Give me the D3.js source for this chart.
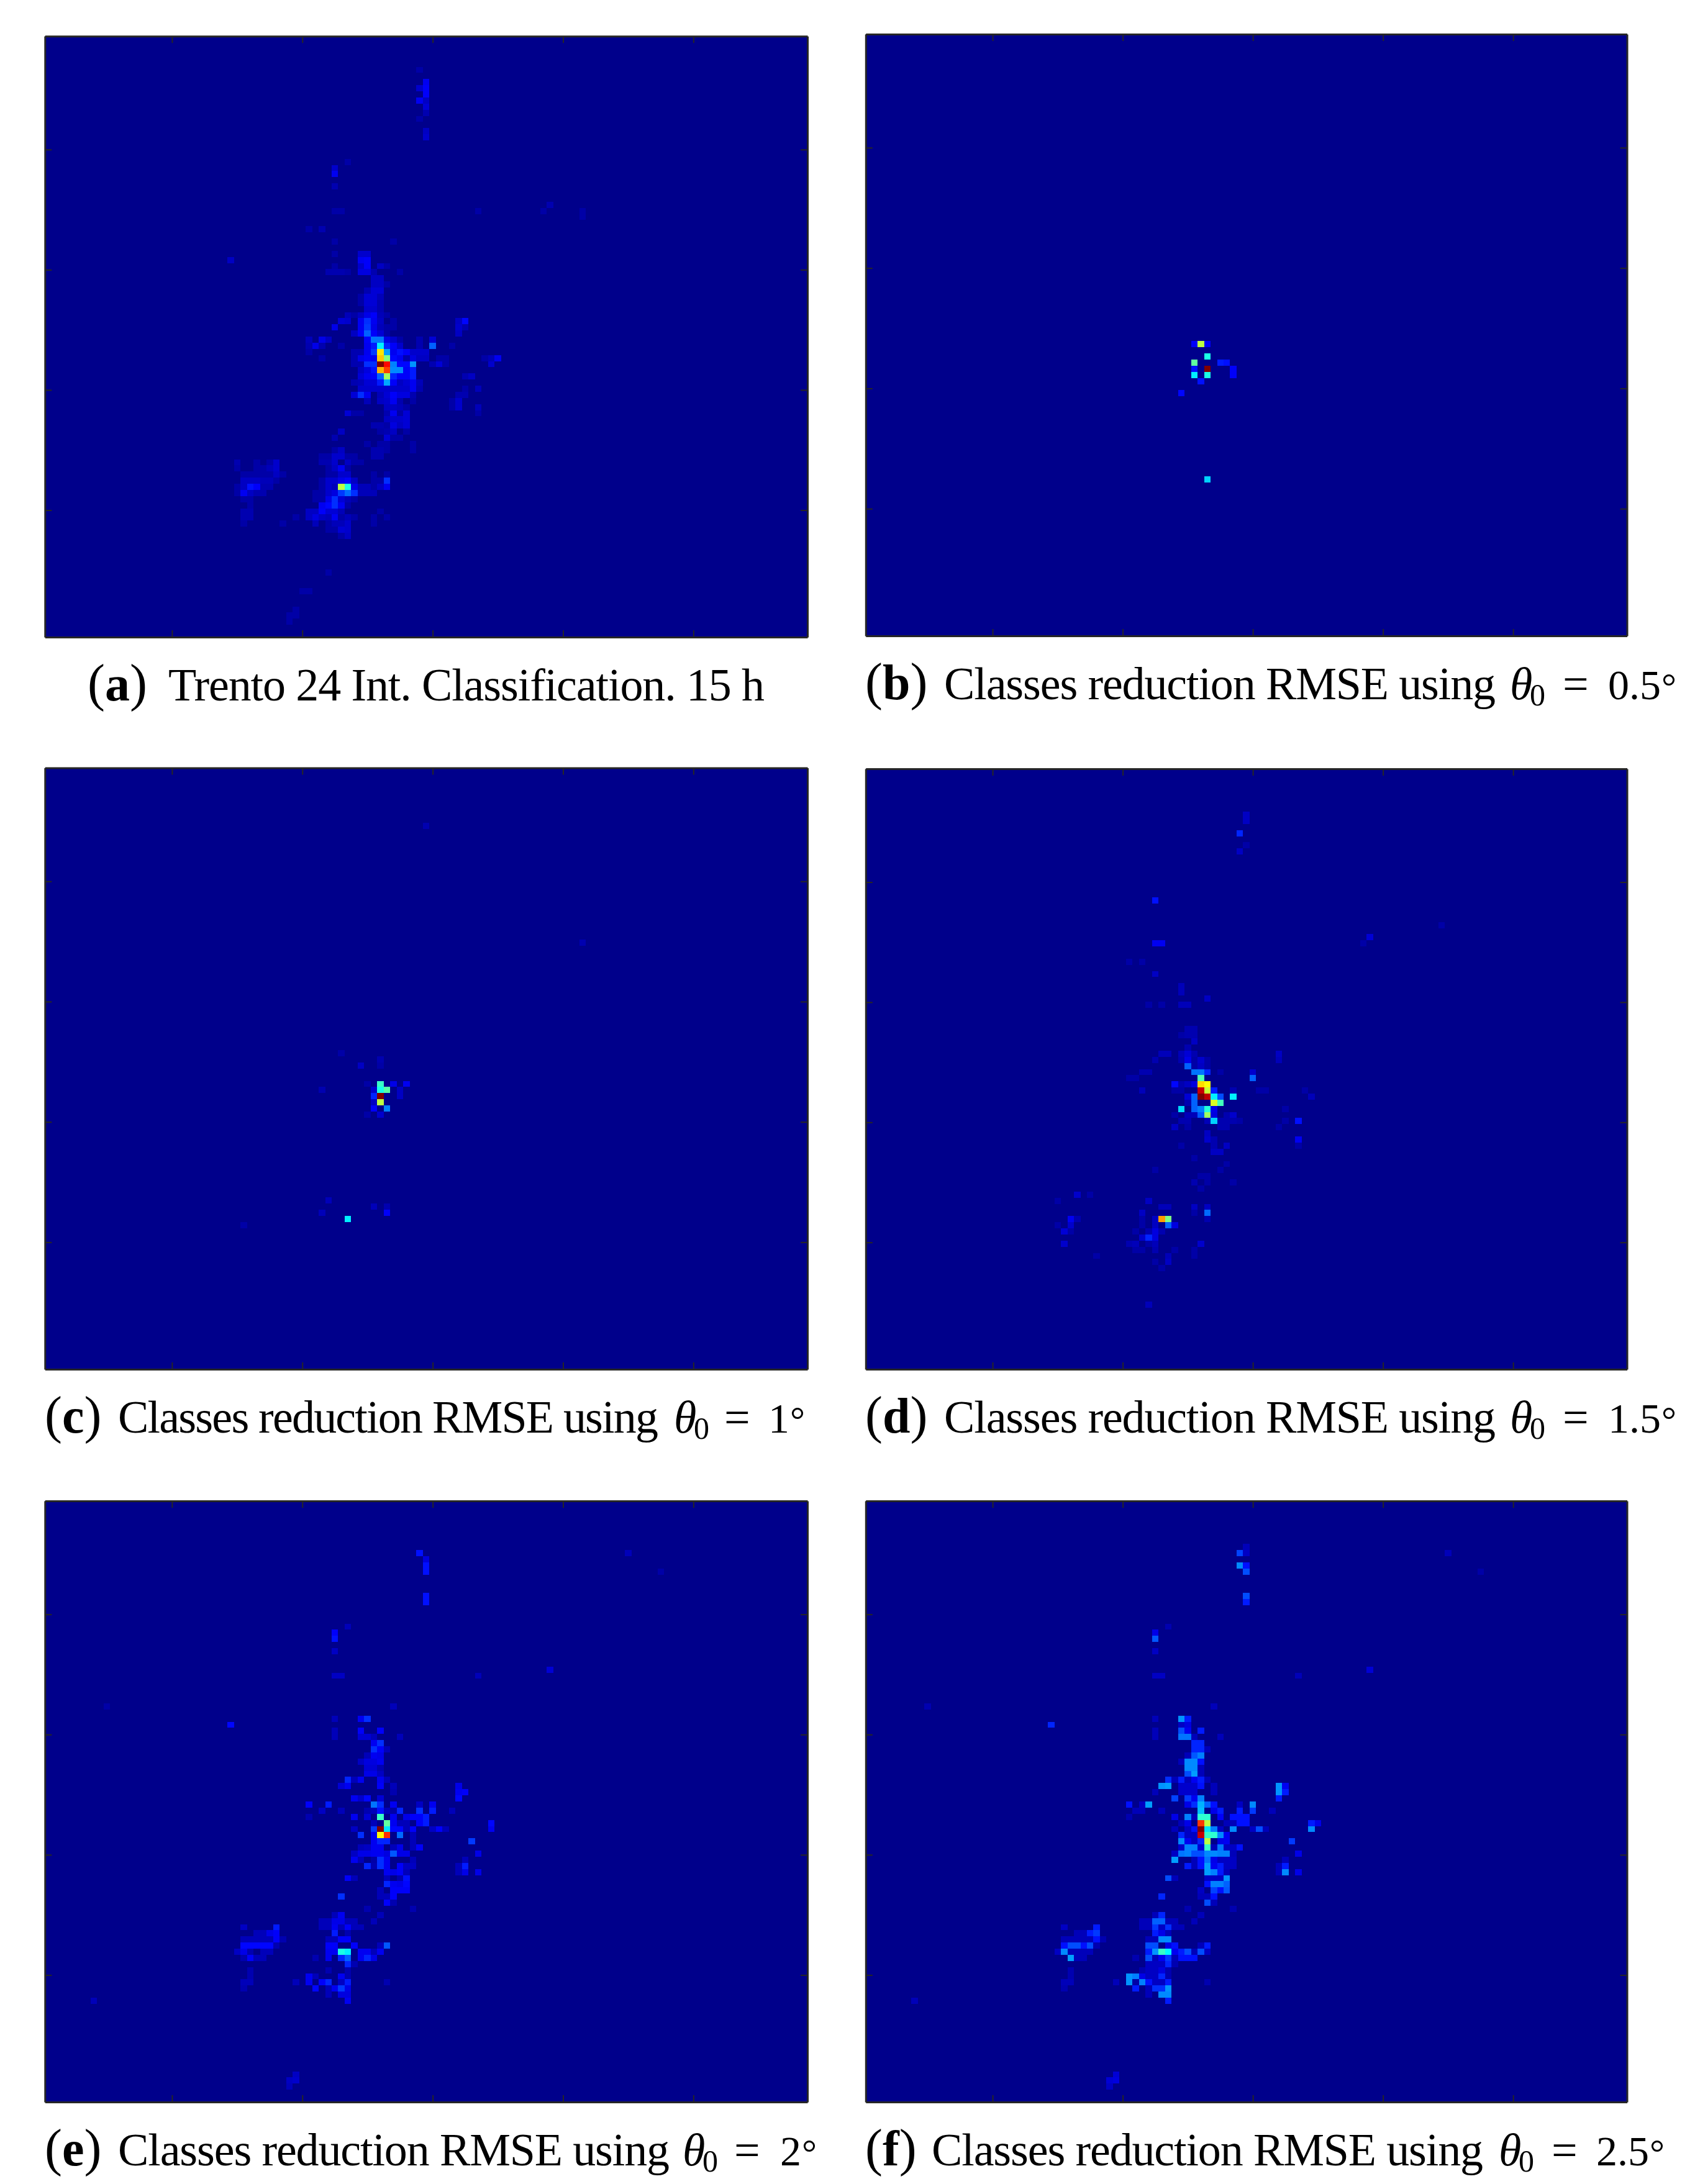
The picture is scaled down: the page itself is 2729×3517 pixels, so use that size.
<!DOCTYPE html>
<html><head><meta charset="utf-8">
<script src="https://cdn.jsdelivr.net/npm/d3@7"></script>
<style>html,body{margin:0;padding:0;background:#fff}svg{display:block}</style>
</head><body><div id="chart"></div>
<script>
// Each row: [rowIndex, [col, value, col, value, ...]]; value in percent of the jet colour range.
const heatA = [
[5,[57,3]],[7,[58,11]],[8,[57,7,58,12]],[9,[58,12]],[10,[57,11,58,6]],[11,[58,8]],[12,[58,4]],[13,[57,3]],[15,[58,6]],[16,[58,7]],
[20,[46,3]],[21,[44,7]],[22,[44,11]],[24,[44,4]],[27,[77,4]],[28,[44,3,45,3,66,3,76,3,82,3]],[29,[82,3]],[31,[40,3,42,4]],
[33,[44,3,53,3]],[35,[44,3,48,7,49,7]],[36,[28,6,48,11,49,12]],[37,[44,3,48,7,49,12,51,6,52,3]],
[38,[43,4,44,4,45,4,46,3,48,9,49,9,50,4,54,3]],[39,[50,6,51,6]],[40,[50,6,51,6,52,3]],[41,[49,4,50,8,51,8]],
[42,[48,3,49,8,50,8,51,5]],[43,[48,3,49,8,50,8,51,4]],[44,[49,7,50,7,51,4]],
[45,[46,5,47,3,48,6,49,10,50,12,51,5,52,3]],
[46,[45,8,46,7,48,11,49,17,50,11,51,6,53,3,63,6,64,13]],
[47,[44,10,48,11,49,18,50,10,51,5,52,3,53,3,63,7,64,4]],
[48,[47,6,48,12,49,22,50,12,51,8,52,3,63,6]],
[49,[40,5,42,10,43,6,49,12,50,24,51,24,52,10,53,7,54,3,57,4,59,8]],
[50,[40,4,41,10,42,4,45,3,49,11,50,15,51,36,52,16,53,12,54,7,57,4,59,22,62,3]],
[51,[40,3,47,4,48,4,49,11,50,18,51,65,52,28,53,11,54,14,55,12,56,7,57,7,58,7]],
[52,[42,3,47,4,48,10,49,12,50,11,51,68,52,50,53,13,54,11,55,4,56,9,57,6,58,6,60,3,61,3,67,3,68,5,69,11]],
[53,[47,4,48,4,49,17,50,17,51,100,52,87,53,25,54,13,55,13,56,27,59,4,60,8,61,3,68,7]],
[54,[48,6,49,9,50,14,51,70,52,81,53,26,54,26,55,12,56,15]],
[55,[48,8,49,11,50,12,51,22,52,53,53,16,54,12,55,12,56,15,64,4,65,6]],
[56,[47,4,48,5,49,8,50,8,51,15,52,29,53,12,54,6,55,8,56,11,57,5]],
[57,[48,7,49,7,50,7,51,7,52,7,53,7,54,7,55,7,56,11,57,4,64,3,66,5]],
[58,[47,8,48,17,49,11,51,5,52,8,53,12,54,9,55,9,56,4,63,4,64,4]],
[59,[49,5,51,6,52,7,53,11,54,4,56,3,62,3,63,7]],
[60,[52,6,53,6,54,5,55,3,62,3,63,7,66,5]],
[61,[46,8,47,3,48,3,52,4,53,11,54,3,55,8,66,3]],
[62,[52,6,53,7,54,7,55,8]],[63,[50,4,51,4,52,3,53,9,54,6,55,8]],[64,[45,6,51,3,52,4,53,6,55,3]],
[65,[44,4,52,8,53,3,54,3]],[66,[49,3,51,3,52,3,56,3]],[67,[44,3,45,6,50,4,51,4,52,3,56,3]],
[68,[42,3,43,3,44,7,45,7,46,3,47,3,50,4,51,4]],
[69,[29,4,32,3,34,3,35,7,42,4,43,4,44,7,46,6,47,3,48,3]],
[70,[29,3,32,3,33,3,34,5,35,7,43,3,44,6,45,11,46,3]],
[71,[30,3,31,3,32,3,33,3,34,3,35,6,36,3,43,3,44,3,45,7,46,7,50,3,52,3]],
[72,[30,6,31,6,32,6,33,5,34,5,35,3,42,3,43,7,44,7,45,10,46,12,47,6,50,3,51,3,52,17]],
[73,[29,3,30,6,31,14,32,12,33,4,34,4,42,3,43,7,44,5,45,56,46,40,47,10,48,5,49,5,50,3,51,6,52,11]],
[74,[29,3,30,11,31,6,32,4,33,4,41,3,42,3,43,7,44,9,45,18,46,23,47,17,48,5,49,5,50,5]],
[75,[30,3,31,3,41,3,42,3,43,10,44,17,45,8,46,5,47,3]],
[76,[31,3,42,11,43,13,44,17,45,11,46,3]],
[77,[30,4,31,4,40,6,41,6,42,12,43,8,44,8,45,5,51,3]],
[78,[30,4,31,4,38,3,40,6,41,9,42,6,43,5,44,11,45,3,46,5,47,3,50,3,52,3]],
[79,[30,3,36,3,41,5,43,3,44,5,45,5,46,7,50,3]],
[80,[43,3,44,3,45,8,46,7]],[81,[45,3,46,6]],[87,[43,3]],[90,[39,3,40,3]],[93,[38,3]],[94,[37,3,38,3]],[95,[37,3]]
];
const heatB = [
[50,[50,12,51,56,52,12]],[52,[52,40]],[53,[50,47,54,15,55,14]],[54,[50,14,52,100,56,12]],[55,[50,36,52,40,56,12]],[56,[51,14]],[58,[48,13]],[72,[52,33]]
];
const heatC = [
[9,[58,4]],[28,[82,4]],[46,[45,3]],[47,[51,4]],[48,[48,6,51,3]],[51,[49,3,51,43,53,10,55,11]],
[52,[42,4,50,7,51,40,52,46,54,6]],[53,[50,16,51,100,54,6]],[54,[50,6,51,56]],[55,[50,12,52,25]],[56,[49,3,51,7]],
[70,[43,5]],[71,[50,5,52,4]],[72,[42,5,52,12]],[73,[46,36]],[74,[30,3]]
];
const heatD = [
[7,[58,6]],[8,[58,6]],[10,[57,16]],[12,[58,3]],[13,[57,6]],[21,[44,14]],[25,[88,3]],[27,[77,8]],[28,[44,11,45,11,76,3]],
[31,[40,3,42,3]],[33,[44,6]],[35,[48,5]],[36,[48,5]],[37,[52,6]],[38,[43,3,45,3,48,5,49,5]],[42,[49,4,50,4]],
[43,[48,3,49,4,50,4]],[44,[50,6]],[45,[49,4]],[46,[45,5,46,5,48,5,49,8,50,4,63,6]],
[47,[44,4,48,4,49,10,50,3,51,7,52,3,63,5]],[48,[49,22,50,3,51,6,52,3]],
[49,[42,4,43,4,50,24,51,24,52,16,54,3,59,7]],[50,[40,3,41,3,51,45,59,22]],
[51,[47,13,48,4,49,6,50,9,51,66,52,62]],
[52,[42,5,47,3,48,3,51,93,52,57,53,15,56,4,60,3,61,3,67,3]],
[53,[49,8,50,22,51,100,52,94,53,36,54,20,56,36,68,5]],
[54,[49,4,50,22,53,59,54,44]],[55,[48,34,50,22,51,25,52,41,53,10,64,3]],
[56,[47,3,49,5,50,5,51,21,52,53,53,9,55,4,56,7]],
[57,[48,4,49,4,52,5,53,33,54,4,55,4,56,4,57,3,64,3,66,14]],
[58,[47,6,49,3,54,4,55,4,63,3]],[59,[52,6]],[60,[52,7,53,4,66,11]],[61,[48,3,53,4,55,6,66,3]],[62,[53,6,54,6]],
[63,[50,3]],[64,[55,3]],[65,[44,3,54,3]],[66,[51,3,52,3]],[67,[50,4,52,3,56,3]],[68,[51,3]],
[69,[32,7,34,3]],[70,[29,3,43,6]],[71,[45,5,46,5,50,6,52,6]],[72,[42,6,50,3,52,23]],
[73,[31,11,32,4,42,3,44,6,45,72,46,50,52,4]],[74,[29,3,31,7,42,3,44,6,46,22,47,9]],
[75,[30,8,31,3,41,3,43,4,44,9,45,4]],[76,[42,7,43,16,44,9]],[77,[30,7,40,4,41,5,43,3,44,5,51,7]],
[78,[41,3,42,3,44,4,47,3,50,3]],[79,[35,3,46,5,50,3]],[80,[44,3,46,6]],[81,[45,3]],[87,[43,5]]
];
const heatE = [
[8,[57,14,89,5]],[9,[58,9]],[10,[58,14]],[11,[58,14,94,3]],[15,[58,14]],[16,[58,14]],[20,[46,5]],[21,[44,12]],[22,[44,14]],[24,[44,6]],
[27,[77,8]],[28,[44,6,45,6,66,5]],[33,[9,3,53,5]],[35,[44,5,48,11,49,17]],[36,[28,13]],[37,[44,5,48,12,51,12]],
[38,[44,5,48,8,49,8,50,5,54,5]],[39,[50,11,51,17]],[40,[50,17,51,12,52,5]],[41,[49,5,50,11,51,10]],[42,[48,6,49,9,50,9,51,11]],
[43,[49,8,50,8,51,4]],[44,[49,10,50,10,51,6]],[45,[46,16,47,5,48,11,51,11,52,5]],[46,[45,8,46,11,51,12,53,5,63,10]],
[47,[53,4,63,11,64,12]],[48,[47,11,48,7,49,13,51,8,63,13]],
[49,[40,12,43,15,50,24,51,17,53,11,57,6,59,11]],
[50,[42,6,45,5,49,4,50,5,51,14,52,5,53,3,54,16,57,17,59,15,62,5]],
[51,[40,4,47,11,49,8,51,43,53,11,55,10,56,12,57,12,58,15]],
[52,[50,5,52,47,53,11,54,5,55,5,57,12,58,15,68,13]],
[53,[47,6,50,18,51,100,52,35,53,13,54,13,55,5,56,12,59,6,60,12,61,5,68,11]],
[54,[48,17,50,11,51,63,52,83,54,23,56,5]],[55,[50,11,51,16,52,16,56,5,65,18]],
[56,[48,5,49,6,50,11,51,11,53,5,54,10,56,5,57,12]],
[57,[47,6,48,10,49,10,50,11,51,11,52,9,53,21,54,10,55,10,66,10]],
[58,[47,11,48,5,50,3,51,17,52,11,56,5,64,5]],
[59,[49,16,50,4,51,17,52,11,54,12,55,6,56,6,63,5,64,15]],
[60,[52,11,53,10,54,12,55,5,63,5,64,10,66,10]],[61,[46,12,47,5,52,5,54,4,55,14]],[62,[52,16,53,11,54,10,55,13]],
[63,[51,5,53,12,54,12,55,12]],[64,[45,17,51,5,52,5,53,12]],[65,[52,12,53,4]],[66,[49,4,56,4]],[67,[44,5,45,11,51,5]],
[68,[42,5,43,5,44,10,45,10,46,5,47,5,50,5]],[69,[30,6,35,15,42,5,43,5,44,11,45,5,46,12,47,5,48,5]],
[70,[32,5,33,5,34,10,35,12,44,15,46,4]],[71,[30,5,31,5,32,5,33,5,34,5,35,12,36,4,43,5,44,5,45,12,46,12]],
[72,[30,13,31,13,32,13,33,13,34,13,35,4,43,12,44,12,47,12,51,5,52,21]],
[73,[29,6,30,10,31,4,33,5,34,5,43,11,44,11,45,40,46,36,48,11,49,11,50,5,51,11]],
[74,[30,4,31,12,32,5,33,5,41,4,43,11,45,16,46,22,48,11,49,16,50,10]],
[75,[46,16,47,4]],[76,[31,4,43,4,46,4]],[77,[31,4,40,11,41,5,45,11,46,4]],
[78,[30,5,31,5,38,5,40,11,42,12,43,16,45,6,46,15,52,4]],[79,[30,4,41,13,43,5,44,11,45,18,46,10]],
[80,[43,5,45,9,46,9]],[81,[7,5,46,11]],[93,[38,6]],[94,[37,6,38,7]],[95,[37,5]]
];
const heatF = [
[7,[58,5]],[8,[57,19,58,6,89,5]],[10,[57,26,58,14]],[11,[58,20,94,3]],[15,[58,20]],[16,[58,15]],[20,[46,4]],[21,[44,10]],[22,[44,21]],[24,[44,6]],
[27,[77,8]],[28,[44,6,45,6,66,5]],[33,[9,4,53,5]],[35,[44,5,48,27,49,15]],[36,[28,16,48,6,49,9]],[37,[44,5,48,20,49,11,51,15]],
[38,[44,5,48,24,49,24,50,5,54,5]],[39,[50,16,51,16]],[40,[50,16,51,16,52,5]],[41,[49,5,50,21,51,25]],[42,[48,5,49,26,50,26,51,14]],
[43,[49,26,50,26,51,5]],[44,[49,20,50,28,51,5]],[45,[46,17,47,5,48,15,49,5,50,11,51,15,52,5]],
[46,[45,27,46,28,48,7,49,7,50,7,51,14,53,5,63,27,64,11]],[47,[44,5,48,7,49,7,50,7,53,5,63,27,64,15]],
[48,[47,19,49,18,50,11,51,25,63,15]],[49,[40,14,42,6,43,28,49,10,50,17,51,30,52,22,53,14,57,6,59,26]],
[50,[41,5,42,5,45,5,51,31,53,10,54,15,57,15,59,18,62,5]],
[51,[40,4,47,10,49,25,50,5,51,42,52,42,54,12,56,14,57,14,58,14]],
[52,[48,5,49,10,51,82,52,56,55,5,56,5,57,14,58,14,68,15,69,10]],
[53,[47,5,49,6,50,14,51,100,52,35,53,25,54,6,56,26,59,6,60,20,61,5,68,26]],
[54,[48,16,49,6,50,6,51,93,52,43,53,42,54,26,55,11]],
[55,[48,26,49,11,50,6,51,16,52,56,54,10,55,11,65,18]],
[56,[48,7,49,25,50,25,51,8,52,43,53,5,54,24,55,6,56,6,57,14]],
[57,[47,6,48,24,49,25,50,20,51,20,52,26,53,26,54,25,55,25,56,5,66,10]],
[58,[47,28,50,5,51,14,52,24,53,10,54,6,55,6,56,6,64,5]],
[59,[49,15,50,5,51,14,52,28,53,11,54,15,55,6,56,6,63,5,64,15]],
[60,[52,28,53,25,54,15,55,5,63,5,64,26,66,10]],[61,[46,20,47,5,52,6,53,6,54,6,55,27]],
[62,[52,14,53,25,54,25,55,22]],[63,[51,6,53,19,54,14,55,21]],[64,[45,16,51,5,52,5,53,14]],[65,[52,20,53,5]],[66,[49,4,56,4]],
[67,[44,5,45,16,51,5]],[68,[42,5,43,5,44,22,45,22,46,5,47,5,50,5]],[69,[30,6,35,15,42,5,43,5,44,18,45,6,46,17,47,5,48,5]],
[70,[32,5,33,5,34,15,35,18,44,15,45,10,46,5]],[71,[30,5,31,5,32,5,33,5,34,5,35,14,36,4,43,5,44,5,45,26,46,26]],
[72,[30,14,31,20,32,20,33,14,34,20,35,4,43,20,44,20,46,10,47,14,51,5,52,15]],
[73,[29,6,30,26,31,5,32,5,33,5,34,5,43,15,44,27,45,43,46,37,47,11,48,15,49,20,50,5,51,20,52,6]],
[74,[31,28,32,5,33,5,41,4,43,20,44,5,45,11,46,18,47,5,48,14,49,14,50,14]],
[75,[43,6,44,6,45,6,46,16,47,4]],[76,[31,4,42,4,43,6,44,6,45,9,46,4]],[77,[31,4,40,27,41,25,42,10,43,6,44,6,45,16,46,4]],
[78,[30,5,31,5,38,5,40,27,41,3,42,25,43,14,44,6,45,6,46,15,52,4]],[79,[30,4,41,15,43,5,44,17,45,17,46,27]],
[80,[43,5,45,26,46,26]],[81,[7,5,46,15]],[93,[38,8]],[94,[37,8,38,9]],[95,[37,6]]
];
const panelLetters = ["a","b","c","d","e","f"];
const panelData = [heatA,heatB,heatC,heatD,heatE,heatF];
const captionTexts = ["Trento 24 Int. Classification. 15 h","Classes reduction RMSE using","Classes reduction RMSE using","Classes reduction RMSE using","Classes reduction RMSE using","Classes reduction RMSE using"];
const thetaValues = [null,"0.5","1","1.5","2","2.5"];
const xTickValues = [20,40,60,80,100];
const yTickValues = [20,40,60,80];
const jetStops = [0,12.5,37.5,62.5,87.5,100];
const jetColors = ["#00008b","#0000ff","#00ffff","#ffff00","#ff0000","#800000"];

const W=2729,H=3517,COLS=117,ROWS=98;
const frames=[
 {x0:72.3,x1:1300,y0:58.2,y1:1026,lab:141,txt:271,tw:960},
 {x0:1393.8,x1:2619.5,y0:55,y1:1024,lab:1393,txt:1520,tw:888,th:2431,eq:85,num:158},
 {x0:72.3,x1:1300,y0:1236.5,y1:2205,lab:72,txt:190,tw:870,th:1085,eq:81,num:152},
 {x0:1393.8,x1:2619.5,y0:1238,y1:2205,lab:1393,txt:1520,tw:888,th:2431,eq:85,num:158},
 {x0:72.3,x1:1300,y0:2417,y1:3385,lab:72,txt:190,tw:888,th:1099,eq:83,num:157},
 {x0:1393.8,x1:2619.5,y0:2417,y1:3385,lab:1393,txt:1500,tw:888,th:2413,eq:85,num:157}
];
const color=d3.scaleLinear().domain(jetStops).range(jetColors).clamp(true);
const svg=d3.select("#chart").append("svg").attr("width",W).attr("height",H).attr("viewBox",[0,0,W,H]);
svg.append("rect").attr("width",W).attr("height",H).attr("fill","#fff");
const SERIF="'Liberation Serif','DejaVu Serif',serif";

panelData.forEach((rows,i)=>{
  const f=frames[i];
  const x=d3.scaleLinear().domain([0,COLS]).range([f.x0,f.x1]);
  const y=d3.scaleLinear().domain([0,ROWS]).range([f.y0,f.y1]);
  const xAx=d3.scaleLinear().domain([0.5,COLS+0.5]).range([f.x0,f.x1]);
  const yAx=d3.scaleLinear().domain([1.13,101.13]).range([f.y0,f.y1]);
  const g=svg.append("g");
  g.append("rect").attr("x",f.x0).attr("y",f.y0).attr("width",f.x1-f.x0).attr("height",f.y1-f.y0).attr("fill",color(0));
  const cells=rows.flatMap(([r,list])=>d3.range(0,list.length,2).map(k=>({r,c:list[k],v:list[k+1]})));
  g.selectAll("rect.cell").data(cells).join("rect").attr("class","cell")
    .attr("x",d=>x(d.c)).attr("y",d=>y(d.r))
    .attr("width",d=>x(d.c+1)-x(d.c)).attr("height",d=>y(d.r+1)-y(d.r))
    .attr("fill",d=>color(d.v)).attr("shape-rendering","crispEdges");
  const style=a=>{a.attr("font-size",0);a.selectAll("line").attr("stroke","#262626").attr("stroke-width",2);a.selectAll(".domain").attr("stroke","#262626").attr("stroke-width",3);};
  const tl=11;
  g.append("g").attr("transform",`translate(0,${f.y1})`).call(d3.axisBottom(xAx).tickValues(xTickValues).tickSizeInner(-tl).tickSizeOuter(0).tickFormat("")).call(style);
  g.append("g").attr("transform",`translate(0,${f.y0})`).call(d3.axisTop(xAx).tickValues(xTickValues).tickSizeInner(-tl).tickSizeOuter(0).tickFormat("")).call(style);
  g.append("g").attr("transform",`translate(${f.x0},0)`).call(d3.axisLeft(yAx).tickValues(yTickValues).tickSizeInner(-tl).tickSizeOuter(0).tickFormat("")).call(style);
  g.append("g").attr("transform",`translate(${f.x1},0)`).call(d3.axisRight(yAx).tickValues(yTickValues).tickSizeInner(-tl).tickSizeOuter(0).tickFormat("")).call(style);

  const base=f.y1+102, fs=74;
  const t=(s,xp,yp,size,extra={})=>{
    const e=g.append("text").attr("x",xp).attr("y",yp).attr("font-family",SERIF).attr("font-size",size).attr("fill","#000").text(s);
    Object.entries(extra).forEach(([k,v])=>e.attr(k,v));
    return e;
  };
  const lab=t("",f.lab,base,fs);
  lab.append("tspan").text("(").attr("font-size",84);
  lab.append("tspan").text(panelLetters[i]).attr("font-weight","bold").attr("font-size",80);
  lab.append("tspan").text(")").attr("font-size",84);
  t(captionTexts[i],f.txt,base,fs,{textLength:f.tw,lengthAdjust:"spacing"});
  if(thetaValues[i]){
    const numSize=68;
    const numWidth=thetaValues[i].length>1?85:34;
    t("θ",f.th,base,fs,{"font-style":"italic"});
    t("0",f.th+32,base+10,50);
    t("=",f.th+f.eq,base,fs);
    t(thetaValues[i],f.th+f.num,base,numSize);
    t("°",f.th+f.num+numWidth+1,base,60);
  }
});
</script></body></html>
